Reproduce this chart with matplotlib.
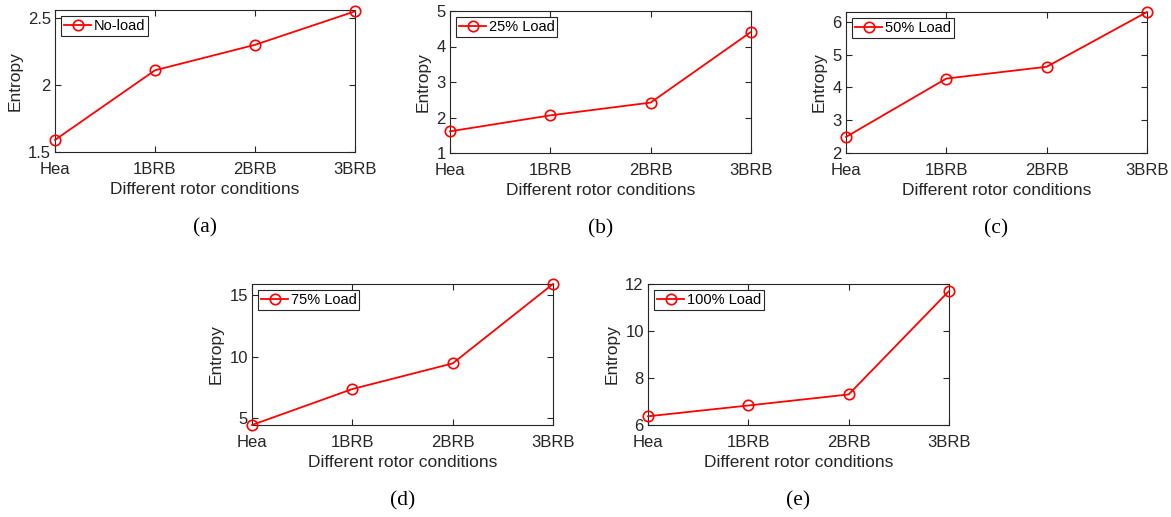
import matplotlib
matplotlib.use("Agg")
from matplotlib import pyplot as plt

plt.rcParams["font.family"] = ["Liberation Sans", "DejaVu Sans"]

conditions = ["Hea", "1BRB", "2BRB", "3BRB"]

no_load = [1.59, 2.11, 2.30, 2.55]
load_25 = [1.61, 2.06, 2.42, 4.41]
load_50 = [2.49, 4.27, 4.63, 6.30]
load_75 = [4.45, 7.37, 9.45, 15.90]
load_100 = [6.37, 6.83, 7.30, 11.70]

labels = ["No-load", "25% Load", "50% Load", "75% Load", "100% Load"]
captions = ["(a)", "(b)", "(c)", "(d)", "(e)"]
series = [no_load, load_25, load_50, load_75, load_100]
ylims = [(1.5, 2.56), (1, 5), (2, 6.3), (4.45, 15.9), (6, 12)]
yticks = [[1.5, 2, 2.5], [1, 2, 3, 4, 5], [2, 3, 4, 5, 6], [5, 10, 15], [6, 8, 10, 12]]

W, H = 1171, 517
# axes boxes in pixels: left, right, top, bottom
boxes = [
    (55, 355, 10, 152),
    (450, 751, 11, 153),
    (846, 1147, 12, 153),
    (252, 553, 284, 425),
    (648, 949, 284, 425),
]

fig = plt.figure(figsize=(W / 100, H / 100), dpi=100)
dark = "#262626"

for vals, lab, cap, yl, yt, (l, r, t, b) in zip(series, labels, captions, ylims, yticks, boxes):
    ax = fig.add_axes([l / W, 1 - b / H, (r - l) / W, (b - t) / H])
    x = range(len(conditions))
    ax.plot(x, vals, color="red", lw=1.3, marker="o", ms=7.5, mfc="none", mew=1.2,
            label=lab, clip_on=False, zorder=3)
    ax.set_xlim(0, 3)
    ax.set_ylim(*yl)
    ax.set_xticks(list(x))
    ax.set_xticklabels(conditions)
    ax.set_yticks(yt)
    ax.set_yticklabels([f"{v:g}" for v in yt])
    ax.tick_params(direction="in", length=4, width=0.8, colors=dark, labelsize=12,
                   top=True, right=True)
    ax.tick_params(axis="x", pad=7)
    ax.tick_params(axis="y", pad=3)
    for s in ax.spines.values():
        s.set_color(dark)
        s.set_linewidth(0.8)
    ax.set_xlabel("Different rotor conditions", fontsize=12.5, color=dark, labelpad=3.5)
    ax.set_ylabel("Entropy", fontsize=12.5, color=dark, labelpad=4)
    leg = ax.legend(loc="upper left", fontsize=10.5, handlelength=1.9, handletextpad=0.15,
                    borderpad=0.2, borderaxespad=0.4, fancybox=False, framealpha=1)
    leg.get_frame().set_edgecolor(dark)
    leg.get_frame().set_linewidth(0.8)
    fig.text((l + r) / 2 / W, 1 - (b + 76) / H, cap, ha="center", va="center",
             fontsize=15.5, family="Liberation Serif", color="black")

fig.savefig("out.png", dpi=100)
